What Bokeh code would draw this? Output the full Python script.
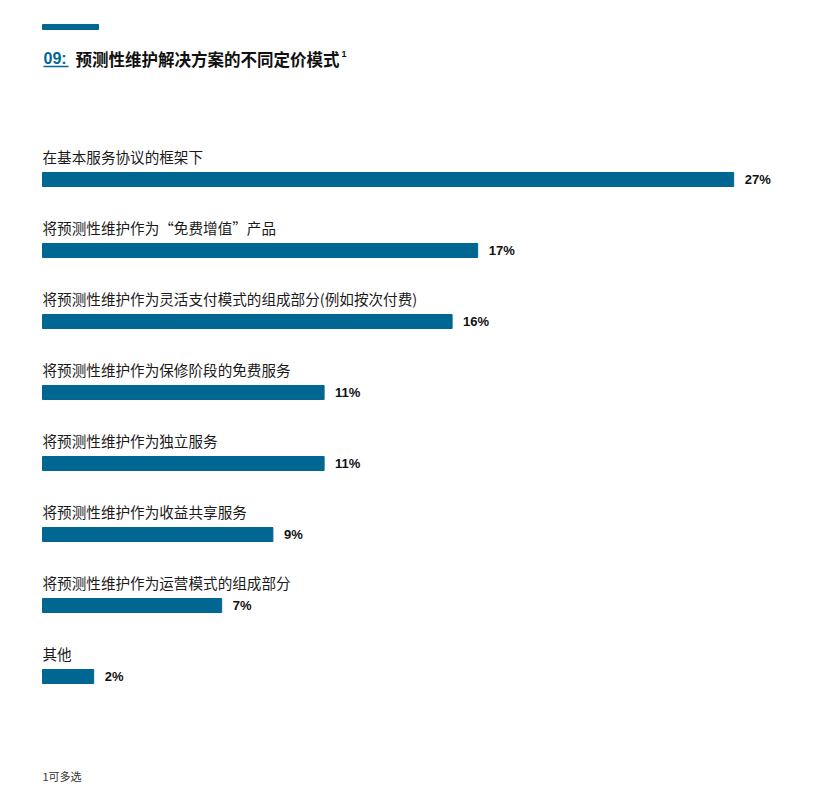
from bokeh.plotting import figure
from bokeh.models import Range1d, ColumnDataSource
from bokeh.core.properties import value
from bokeh.embed import file_html
from bokeh.resources import INLINE

categories = [
    "在基本服务协议的框架下",
    "将预测性维护作为“免费增值”产品",
    "将预测性维护作为灵活支付模式的组成部分(例如按次付费)",
    "将预测性维护作为保修阶段的免费服务",
    "将预测性维护作为独立服务",
    "将预测性维护作为收益共享服务",
    "将预测性维护作为运营模式的组成部分",
    "其他",
]
values = [27, 17, 16, 11, 11, 9, 7, 2]
value_labels = [f"{v}%" for v in values]

title_num = "09:"
title_text = "预测性维护解决方案的不同定价模式"
footnote = "1可多选"

BLUE = "#006792"
W, H = 799, 787
PX_PER_UNIT_X = 25.6
PX_PER_UNIT_Y = 71.0
X0_PAGE = 42
Y0_PAGE = 179


def X(px):
    return (px - X0_PAGE) / PX_PER_UNIT_X


def Y(py):
    return (py - Y0_PAGE) / PX_PER_UNIT_Y


p = figure(
    width=W, height=H, output_backend="svg", toolbar_location=None,
    x_range=Range1d(X(0), X(W)), y_range=Range1d(Y(H), Y(0)),
    min_border=0, outline_line_color=None,
)
p.axis.visible = False
p.grid.visible = False

idx = list(range(len(categories)))
src = ColumnDataSource(dict(
    y=idx, v=values, cat=categories, lab=value_labels,
    ycat=[i - 23 / PX_PER_UNIT_Y for i in idx],
    xlab=[v + 11 / PX_PER_UNIT_X for v in values],
))

p.hbar(y="y", left=0, right="v", height=14 / PX_PER_UNIT_Y, color=BLUE, source=src)
p.text(x=0, y="ycat", text="cat", source=src, text_font=value("Noto Sans CJK SC"),
       text_font_size="14.6px", text_color="#1a1a1a", text_baseline="middle", text_align="left")
p.text(x="xlab", y="y", text="lab", source=src, text_font=value("Liberation Sans"),
       text_font_style="bold", text_font_size="13px", text_color="#111111",
       text_baseline="middle", text_align="left")

# decorative accent bar
p.quad(left=[X(42)], right=[X(98)], top=[Y(24)], bottom=[Y(29)], color=BLUE)

# title
p.text(x=[X(43)], y=[Y(58)], text=[title_num], text_font=value("Liberation Sans"),
       text_font_style="bold", text_font_size="16px", text_color=BLUE,
       text_baseline="middle", text_align="left")
p.segment(x0=[X(43)], x1=[X(68)], y0=[Y(66)], y1=[Y(66)], line_color=BLUE, line_width=1.3)
p.text(x=[X(75)], y=[Y(58)], text=[title_text], text_font=value("Noto Sans CJK SC"),
       text_font_style="bold", text_font_size="16.5px", text_color="#111111",
       text_baseline="middle", text_align="left")
p.text(x=[X(341)], y=[Y(53)], text=["1"], text_font=value("Liberation Sans"),
       text_font_style="bold", text_font_size="9px", text_color="#111111",
       text_baseline="middle", text_align="left")

# footnote
p.text(x=[X(42)], y=[Y(775)], text=[footnote], text_font=value("Noto Sans CJK SC"),
       text_font_size="11px", text_color="#333333",
       text_baseline="middle", text_align="left")

open("out.html", "w").write(file_html(p, INLINE))
